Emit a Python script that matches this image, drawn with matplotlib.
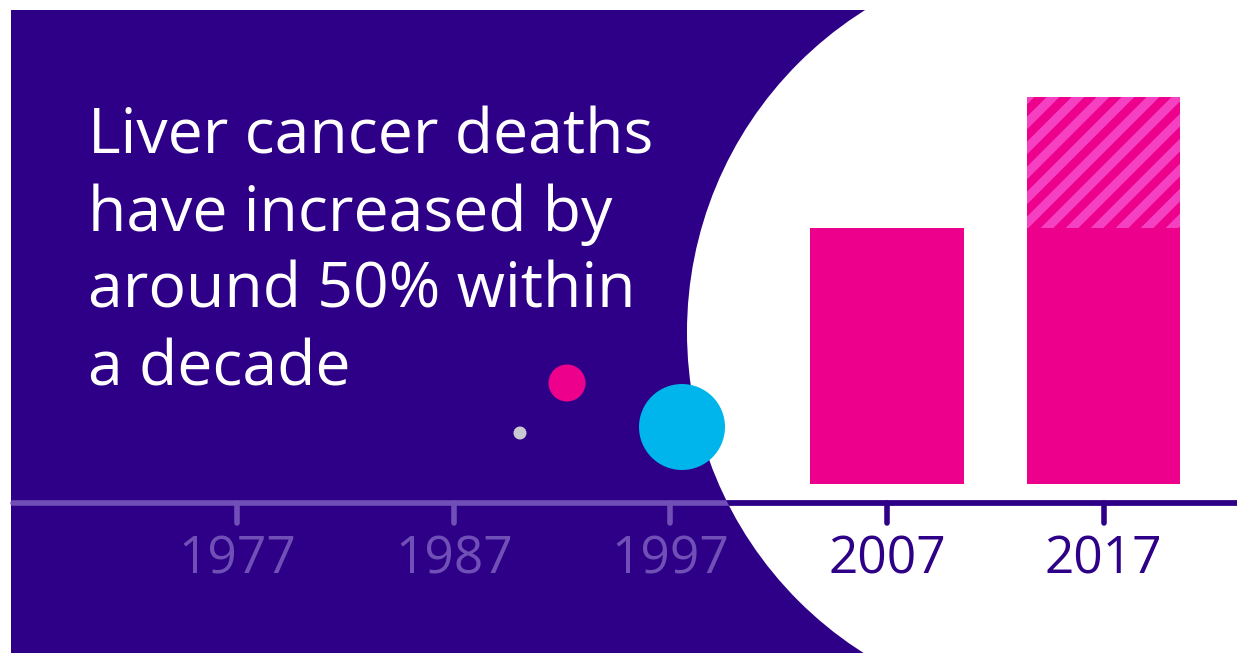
import matplotlib
matplotlib.use("Agg")
import matplotlib.pyplot as plt
from matplotlib.patches import Circle, Rectangle
import numpy as np

# data
tick_years = [1977, 1987, 1997, 2007, 2017]
bar_years = [2007, 2017]
base_values = [100, 100]     # 2007 level (index)
extra_values = [0, 51]       # increase by 2017, hatched part
headline = ["Liver cancer deaths", "have increased by", "around 50% within", "a decade"]

PURPLE = "#2e0087"
LIGHT_PURPLE = "#7050b6"
PINK = "#ec008c"
LIGHT_PINK = "#f540c2"
CYAN = "#00b5eb"
GREY = "#c9c9d2"

W, H = 1237, 653
fig = plt.figure(figsize=(W / 100, H / 100), dpi=100, facecolor="white")

# background layer in pixel coordinates
bg = fig.add_axes([0, 0, 1, 1])
bg.set_xlim(0, W)
bg.set_ylim(H, 0)
bg.axis("off")
bg.add_patch(Rectangle((11, 10), W, H, color=PURPLE, lw=0))
circle = Circle((1067, 332), 380, color="white", lw=0)
bg.add_patch(circle)
bg.add_patch(Circle((520, 433), 6.5, color=GREY, lw=0))
bg.add_patch(Circle((567, 383), 18.5, color=PINK, lw=0))
bg.add_patch(Circle((682, 427), 43, color=CYAN, lw=0, zorder=5))

for i, line in enumerate(headline):
    bg.text(88, 154 + i * 77, line, color="white", fontsize=45, family="Open Sans",
            va="baseline", ha="left")

# chart layer: years on x, index on y
ax = fig.add_axes([0, 0, 1, 1])
ax.patch.set_alpha(0)
ax.set_xlim(1966.05, 2023.16)
ax.set_ylim(-66.2, 188.9)
ax.axis("off")

axis_y = -7.6
ax.plot([1966.65, 2030], [axis_y, axis_y], color=LIGHT_PURPLE, lw=4, solid_capstyle="round")
dark, = ax.plot([1966.65, 2030], [axis_y, axis_y], color=PURPLE, lw=4, solid_capstyle="round")
dark.set_clip_path(circle)

for yr in tick_years:
    c = PURPLE if yr in bar_years else LIGHT_PURPLE
    ax.plot([yr, yr], [axis_y, -15.4], color=c, lw=4, solid_capstyle="round")
    ax.text(yr, -29.9, str(yr), color=c, fontsize=37, family="Open Sans",
            ha="center", va="center")

ax.bar(bar_years, base_values, width=7.1, color=PINK, lw=0)
tops = ax.bar(bar_years, extra_values, bottom=base_values, width=7.1, color=PINK, lw=0)

# diagonal stripes on the increase
for patch in tops:
    if patch.get_height() <= 0:
        continue
    for c in np.arange(900, 1500, 25):
        s, = ax.plot([0, W], [c, c - W], transform=bg.transData,
                     color=LIGHT_PINK, lw=6.5, solid_capstyle="butt")
        s.set_clip_path(patch)

fig.savefig("out.png", dpi=100, facecolor="white")
